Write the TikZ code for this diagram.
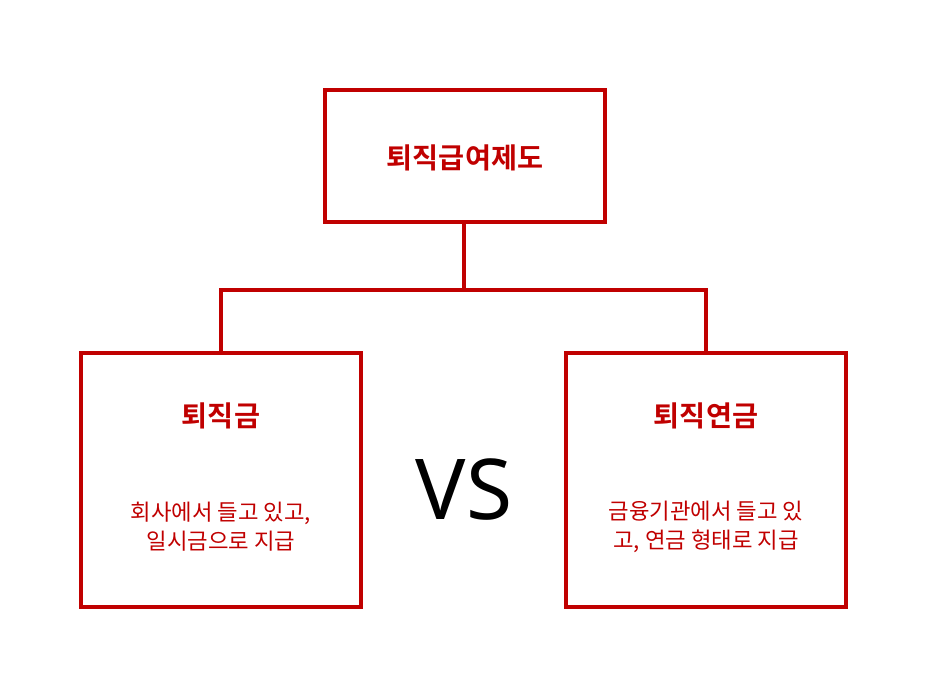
\documentclass[tikz,border=0pt]{standalone}
\usepackage{fontspec}
\setmainfont{Noto Sans}
\newfontfamily\kr{Noto Sans CJK KR}
\newfontfamily\krb{Noto Sans CJK KR Bold}
\definecolor{myred}{HTML}{C00000}
\begin{document}
\begin{tikzpicture}[x=1pt,y=-1pt,
  box/.style={draw=myred,line width=4pt,minimum width=280pt,inner sep=0pt},
  conn/.style={draw=myred,line width=4pt},
  title/.style={text=myred,font=\krb\fontsize{28.3}{32}\selectfont},
  body/.style={text=myred,font=\kr\fontsize{22.3}{29}\selectfont,align=center}]
\useasboundingbox (0,0) rectangle (925,679);
\node[box,minimum height=132pt] (top) at (465,156) {};
\node[box,minimum height=254pt] (left) at (221,480) {};
\node[box,minimum height=254pt] (right) at (706,480) {};
\node[title] (ttop) at (465,158) {퇴직급여제도};
\node[title] (tleft) at (221,416) {퇴직금};
\node[title] (tright) at (706,416) {퇴직연금};
\node[body] (bleft) at (221,527) {회사에서 들고 있고,\\일시금으로 지급};
\node[body] (bright) at (706,527) {금융기관에서 들고 있\\고, 연금 형태로 지급};
\node[font=\fontsize{84}{90}\selectfont] (vs) at (464,490) {VS};
\coordinate (mid) at (464,290);
\draw[conn] (top.south -| mid) -- (mid);
\draw[conn,line cap=rect] (left.north) |- (mid) -| (right.north);
\end{tikzpicture}
\end{document}
